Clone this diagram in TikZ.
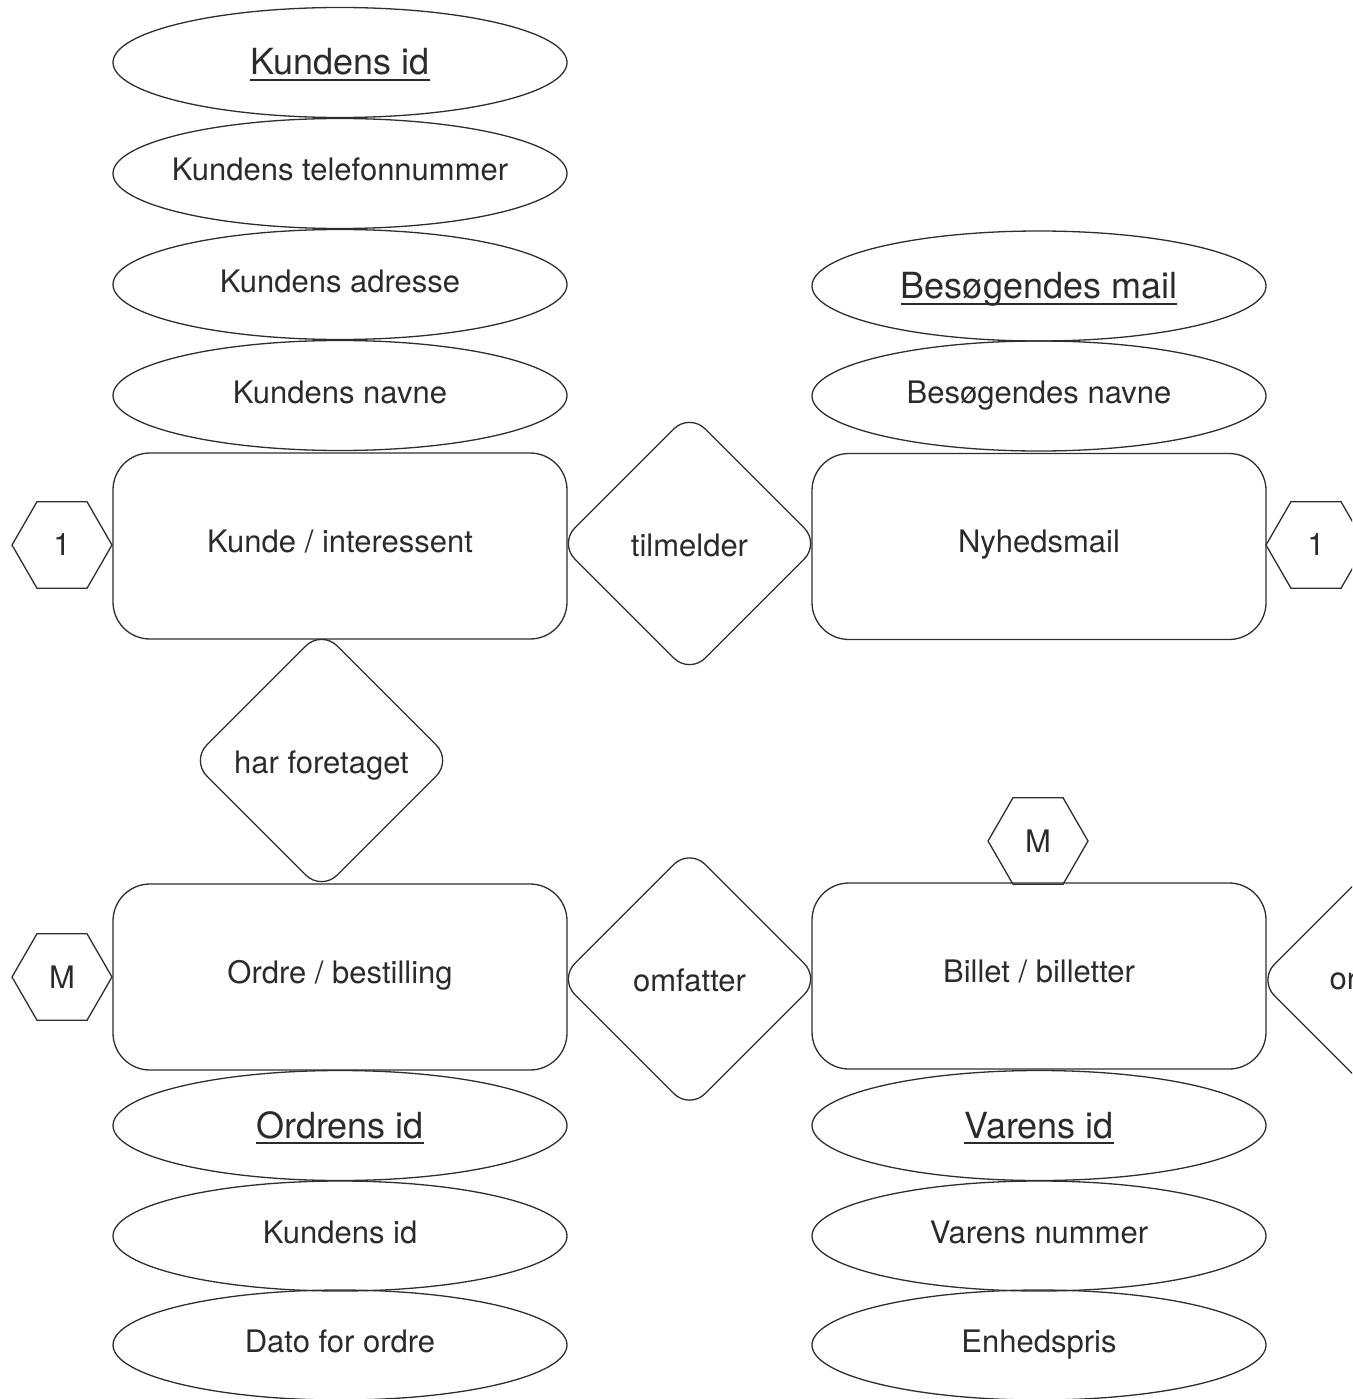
\documentclass[tikz,border=0pt]{standalone}
\usepackage{fontspec}
\setmainfont{TeX Gyre Heros}
\usetikzlibrary{shapes.geometric}
\definecolor{ink}{HTML}{2E2E2E}
\definecolor{txt}{HTML}{2B2B2B}
% key attribute: text with a rule a little under its baseline
\newcommand\keyattr[1]{\setbox0\hbox{#1}\rlap{\rule[-0.17em]{\wd0}{0.055em}}\box0}
\tikzset{
  base/.style={draw=ink, line width=1.3pt, text=txt, inner sep=0pt,
    font=\fontsize{31}{36}\selectfont},
  % fixed-size shapes: the label takes no width of its own
  fixedsize/.style={execute at begin node={\hbox to 0pt\bgroup\hss},
    execute at end node={\hss\egroup}},
  attr/.style={base, fixedsize, ellipse, minimum width=454pt, minimum height=110pt,
    text height=22pt, text depth=7pt},
  keyfont/.style={font=\fontsize{36}{40}\selectfont, text height=26pt, text depth=1pt},
  entity/.style={base, rectangle, rounded corners=37pt, minimum width=454pt, minimum height=186pt,
    text height=22pt, text depth=10pt},
  relation/.style={base, diamond, rounded corners=22pt, minimum width=261pt, minimum height=261pt,
    text height=25pt, text depth=0pt},
  card/.style={base, regular polygon, regular polygon sides=6, minimum size=100pt}
}
\begin{document}
\begin{tikzpicture}[x=1pt,y=-1pt]
\useasboundingbox (0,0) rectangle (1352,1399);
\clip (0,0) rectangle (1352,1399);

% customer and its attributes
\node[attr, keyfont] (kid)  at (340,62.5)  {\keyattr{Kundens id}};
\node[attr] (ktel) at (340,173.5) {Kundens telefonnummer};
\node[attr] (kadr) at (340,284.5) {Kundens adresse};
\node[attr] (knav) at (340,395.5) {Kundens navne};
\node[entity] (kunde) at (340,546) {Kunde / interessent};
\node[card] (c1) at (62,545) {1};

% newsletter and its attributes
\node[attr, keyfont] (bmail) at (1039,286) {\keyattr{Besøgendes mail}};
\node[attr] (bnav) at (1039,396) {Besøgendes navne};
\node[entity] (nyhed) at (1039,546.5) {Nyhedsmail};
\node[card] (c2) at (1316,545) {1};

\node[relation] (tilm) at (689.5,543.5) {tilmelder};
\node[relation] (harf) at (321.5,760.5) {har foretaget};

% order and its attributes
\node[entity] (ordre) at (340,977) {Ordre / bestilling};
\node[card] (c3) at (62,977) {M};
\node[attr, keyfont] (oid) at (340,1125.5) {\keyattr{Ordrens id}};
\node[attr] (okid) at (340,1236) {Kundens id};
\node[attr] (odato) at (340,1345) {Dato for ordre};

\node[relation] (omf) at (689.5,979) {omfatter};

% ticket and its attributes
\node[entity] (billet) at (1039,976) {Billet / billetter};
\node[card] (c4) at (1038,841) {M};
\node[attr, keyfont] (vid) at (1039,1125.5) {\keyattr{Varens id}};
\node[attr] (vnr) at (1039,1236) {Varens nummer};
\node[attr] (vpris) at (1039,1345) {Enhedspris};

% relation running off the right edge
\node[relation] (orel) at (1389,980) {};
\node[base, draw=none, anchor=west] (oreltxt) at (1329,981) {or};
\end{tikzpicture}
\end{document}
